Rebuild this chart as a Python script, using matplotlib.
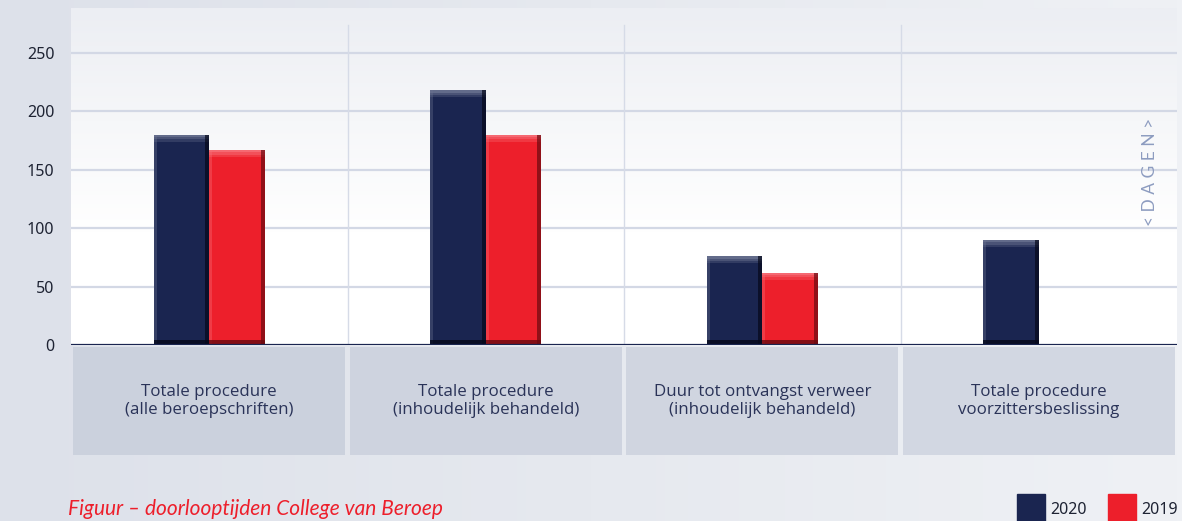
import numpy as np
import matplotlib
matplotlib.use("Agg")
import matplotlib.pyplot as plt
from matplotlib.colors import LinearSegmentedColormap
from matplotlib.patches import Rectangle

categories = [
    "Totale procedure\n(alle beroepschriften)",
    "Totale procedure\n(inhoudelijk behandeld)",
    "Duur tot ontvangst verweer\n(inhoudelijk behandeld)",
    "Totale procedure\nvoorzittersbeslissing",
]
values_2020 = [180, 218, 76, 90]
values_2019 = [167, 180, 62, np.nan]
series_names = ["2020", "2019"]
yticks = [0, 50, 100, 150, 200, 250]

navy = "#1a2550"
red = "#ed1f2b"

W, H = 1182, 521
fig = plt.figure(figsize=(W / 100, H / 100), dpi=100)

# figure background gradient
bg = fig.add_axes([0, 0, 1, 1], zorder=-10)
grad = np.linspace(0, 1, 256).reshape(1, -1)
bgcmap = LinearSegmentedColormap.from_list("bg", ["#dde1ea", "#e6e9ef", "#eff1f5"])
bg.imshow(grad, aspect="auto", cmap=bgcmap, extent=[0, 1, 0, 1])
bg.set_axis_off()

left, right = 71 / W, 1177 / W
ax = fig.add_axes([left, 1 - 345 / H, right - left, (345 - 8) / H])
ymax = (345 - 8) / 1.168
ax.set_xlim(-0.5, len(categories) - 0.5)
ax.set_ylim(0, ymax)

# panel background (white with grey gradient at top)
pcmap = LinearSegmentedColormap.from_list("p", ["#ffffff", "#ffffff", "#f6f7f9", "#eceef3"])
pgrad = np.linspace(0, 1, 256).reshape(-1, 1)
ax.imshow(pgrad, aspect="auto", cmap=pcmap, origin="lower",
          extent=[-0.5, len(categories) - 0.5, 0, ymax], zorder=0)

for sp in ax.spines.values():
    sp.set_visible(False)

# grid lines
for yv in yticks[1:]:
    ax.axhline(yv, color="#d3d8e5", lw=1.6, zorder=1)
for i in range(1, len(categories)):
    ax.axvline(i - 0.5, ymin=0, ymax=274 / ymax, color="#d6dbe7", lw=1.0, zorder=1)
ax.axhline(0, color=navy, lw=1.6, zorder=5)

x = np.arange(len(categories))
bw = 0.2
v20 = np.array(values_2020, dtype=float)
v19 = np.array(values_2019, dtype=float)


def bevel_bars(xpos, vals, base, light, dark):
    ax.bar(xpos, vals, width=bw, color=base, zorder=3, linewidth=0)
    # top highlight (soft)
    for k, a in enumerate([0.9, 0.6, 0.3]):
        ax.bar(xpos, np.full_like(vals, 2), bottom=vals - 2 * (k + 1), width=bw,
               color=light, zorder=4, linewidth=0, alpha=a)
    # right shading
    ax.bar(xpos + bw * 0.465, vals, width=bw * 0.07, color=dark, zorder=4,
           linewidth=0, alpha=0.7)
    # left highlight
    ax.bar(xpos - bw * 0.475, vals, width=bw * 0.05, color=light, zorder=4,
           linewidth=0, alpha=0.35)
    # bottom shading
    ax.bar(xpos, np.where(np.isnan(vals), np.nan, 4), width=bw, color=dark,
           zorder=4, linewidth=0, alpha=0.8)


bevel_bars(x - bw / 2, v20, navy, "#6b7391", "#05081a")
bevel_bars(x + bw / 2, v19, red, "#f7727a", "#6a0a10")

ax.set_xticks([])
ax.set_yticks(yticks)
ax.set_yticklabels([str(t) for t in yticks], fontsize=11.5, color="#1e2333",
                   family="Noto Sans")
ax.tick_params(axis="y", length=0, pad=12)

ax.text(1150 / W, 1 - 172 / H, "< D A G E N >", transform=fig.transFigure,
        rotation=90, ha="center", va="center", fontsize=12.5,
        color="#8d9cc0", family="Lato")

# category boxes
ax2 = fig.add_axes([left, 1 - 455 / H, right - left, (455 - 347) / H])
ax2.set_xlim(-0.5, len(categories) - 0.5)
ax2.set_ylim(0, 1)
ax2.set_axis_off()
box_colors = ["#cbd1dd", "#ced3df", "#d0d5e0", "#d2d7e2"]
ax2.bar(x, 1, width=0.985, color=box_colors, linewidth=0)
for xi, lab in zip(x, categories):
    ax2.text(xi, 0.5, lab, ha="center", va="center", fontsize=12.2,
             color="#2a3358", family="Open Sans", linespacing=1.1)

# legend
lax = fig.add_axes([0, 0, 1, 1], zorder=5)
lax.set_xlim(0, W)
lax.set_ylim(H, 0)
lax.set_axis_off()
leg_cols = [navy, red]
text_x = [1050, 1141]
sq_x = [1017, 1108]
for sx, tx, name, c in zip(sq_x, text_x, series_names, leg_cols):
    lax.add_patch(Rectangle((sx, 494), 28, 29, color=c))
    lax.text(tx, 510, name, ha="left", va="center", fontsize=11.5,
             color="#1e2333", family="Noto Sans")

lax.text(68, 519, "Figuur – doorlooptijden College van Beroep", ha="left",
         va="bottom", fontsize=15, style="italic", color="#ed1f2b",
         family="Lato")

fig.savefig("out.png", dpi=100)
